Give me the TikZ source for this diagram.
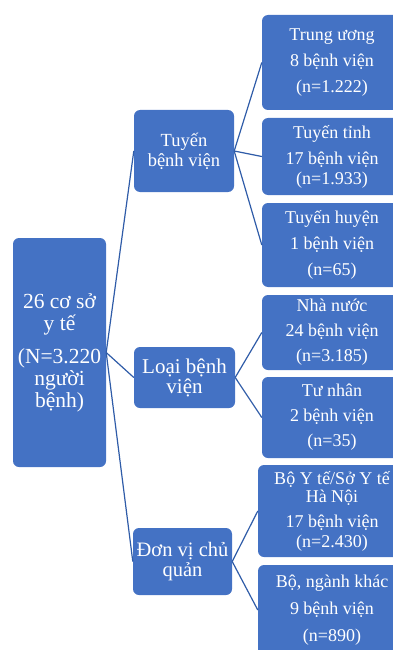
\documentclass[tikz,border=0pt]{standalone}
\usepackage{fontspec}
\setmainfont{Liberation Serif}
\definecolor{boxblue}{HTML}{4472C4}
\definecolor{linkblue}{HTML}{2F5CA8}
\tikzset{
  bx/.style={fill=boxblue, rounded corners=6pt, text=white, align=center, inner sep=0pt},
  rootbox/.style={bx, minimum width=93pt, minimum height=229pt, font=\fontsize{21.5}{22}\selectfont},
  midbox/.style={bx, minimum width=100pt},
  leafbox/.style={bx, minimum width=140pt, font=\fontsize{18}{26}\selectfont},
  link/.style={draw=linkblue, line width=1.2pt}
}
\begin{document}
\begin{tikzpicture}[x=1pt,y=-1pt]
\useasboundingbox (0,0) rectangle (393,650);
% root
\node[rootbox] (root) at (59.5,352.5) {26 cơ sở\\y tế\\[11pt](N=3.220\\người\\bệnh)};
% middle
\node[midbox, minimum height=82pt, font=\fontsize{18.5}{20}\selectfont] (tuyen) at (184,151) {Tuyến\\bệnh viện};
\node[midbox, minimum width=101pt, minimum height=61pt, font=\fontsize{21}{20}\selectfont] (loai) at (184.5,377.5) {Loại bệnh\\viện};
\node[midbox, minimum width=99pt, minimum height=67pt, font=\fontsize{20.5}{20}\selectfont] (donvi) at (182.5,561.5) {Đơn vị chủ\\quản};
% leaves
\node[leafbox, minimum height=95pt] (tw) at (332,62.5) {Trung ương\\8 bệnh viện\\(n=1.222)};
\node[leafbox, minimum height=77pt] (tinh) at (332,156.5) {Tuyến tỉnh\\17 bệnh viện\\[-6pt](n=1.933)};
\node[leafbox, minimum height=84pt] (huyen) at (332,245) {Tuyến huyện\\1 bệnh viện\\(n=65)};
\node[leafbox, minimum height=75pt, font=\fontsize{18}{25}\selectfont] (nhanuoc) at (332,332.5) {Nhà nước\\24 bệnh viện\\(n=3.185)};
\node[leafbox, minimum height=81pt, font=\fontsize{18}{25}\selectfont] (tunhan) at (332,417.5) {Tư nhân\\2 bệnh viện\\(n=35)};
\node[leafbox, minimum width=148pt, minimum height=92pt, font=\fontsize{18}{25}\selectfont] (boyte) at (332,511) {Bộ Y tế/Sở Y tế\\[-7pt]Hà Nội\\17 bệnh viện\\[-5pt](n=2.430)};
\node[leafbox, minimum width=148pt, minimum height=90pt, font=\fontsize{18}{27}\selectfont] (bonganh) at (332,610) {Bộ, ngành khác\\9 bệnh viện\\(n=890)};
% connectors
\draw[link] (root.east) -- (tuyen.west);
\draw[link] (root.east) -- (loai.west);
\draw[link] (root.east) -- (donvi.west);
\draw[link] (tuyen.east) -- (tw.west);
\draw[link] (tuyen.east) -- (tinh.west);
\draw[link] (tuyen.east) -- (huyen.west);
\draw[link] (loai.east) -- (nhanuoc.west);
\draw[link] (loai.east) -- (tunhan.west);
\draw[link] (donvi.east) -- (boyte.west);
\draw[link] (donvi.east) -- (bonganh.west);
\end{tikzpicture}
\end{document}
